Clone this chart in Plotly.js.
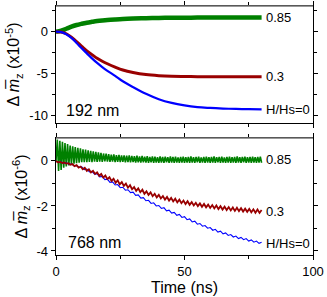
<!DOCTYPE html>
<html>
<head>
<meta charset="utf-8">
<script src="https://cdn.plot.ly/plotly-3.0.1.min.js"></script>
<style>html,body{margin:0;padding:0;background:#fff;}#chart{width:327px;height:297px;}</style>
</head>
<body>
<div id="chart"></div>
<script>
// ---------- DATA ----------
// Top panel (192 nm), units x1e-5, time in ns
const tTop = [0,2,4,6,8,10,12,14,16,18,20,23,26,30,35,40,45,50,55,60,65,70,75,80];
const top085 = [0,0.12,0.35,0.6,0.8,0.95,1.08,1.18,1.27,1.34,1.4,1.47,1.53,1.58,1.62,1.65,1.67,1.68,1.69,1.7,1.7,1.7,1.7,1.7];
const top03  = [0,-0.05,-0.25,-0.65,-1.2,-1.75,-2.3,-2.75,-3.2,-3.55,-3.85,-4.25,-4.6,-4.9,-5.15,-5.28,-5.35,-5.38,-5.4,-5.4,-5.4,-5.4,-5.4,-5.4];
const top0   = [0,-0.05,-0.3,-0.75,-1.35,-2.0,-2.6,-3.2,-3.75,-4.25,-4.7,-5.3,-5.95,-6.65,-7.45,-8.1,-8.55,-8.85,-9.05,-9.15,-9.22,-9.27,-9.3,-9.32];

// Bottom panel (768 nm), units x1e-6; sampled on uniform time grids
const stepGreen = 0.5, stepRed = 0.8, stepBlue = 1.0;
const bot085 = [0.00,0.95,-0.45,0.90,-0.40,0.85,-0.30,0.80,-0.25,0.75,-0.20,
 0.68,-0.15,0.65,-0.12,0.62,-0.10,0.58,-0.08,0.56,-0.06,
 0.52,-0.05,0.50,-0.06,0.47,-0.04,0.45,-0.05,0.42,-0.03,
 0.40,-0.04,0.38,-0.03,0.36,-0.04,0.33,-0.02,0.32,-0.03,
 0.30,-0.04,0.28,-0.03,0.29,-0.05,0.26,-0.04,0.27,-0.05,
 0.24,-0.04,0.25,-0.06,0.23,-0.05,0.24,-0.06,0.22,-0.05,
 0.21,-0.07,0.23,-0.06,0.20,-0.07,0.22,-0.06,0.19,-0.07,
 0.21,-0.08,0.18,-0.06,0.20,-0.08,0.19,-0.07,0.17,-0.08,
 0.20,-0.07,0.18,-0.08,0.19,-0.06,0.17,-0.08,0.20,-0.07,
 0.18,-0.08,0.19,-0.07,0.16,-0.08,0.18,-0.07,0.19,-0.08,
 0.17,-0.07,0.18,-0.08,0.20,-0.07,0.17,-0.08,0.18,-0.06,
 0.19,-0.08,0.16,-0.07,0.18,-0.08,0.19,-0.07,0.17,-0.08,
 0.18,-0.07,0.20,-0.08,0.17,-0.06,0.18,-0.08,0.19,-0.07,
 0.16,-0.08,0.18,-0.07,0.19,-0.08,0.17,-0.07,0.18,-0.08,
 0.20,-0.07,0.17,-0.08,0.18,-0.06,0.19,-0.08,0.17,-0.07,
 0.18,-0.08,0.19,-0.07,0.17,-0.08,0.18,-0.07,0.19,-0.08];
const bot03 = [-0.01,-0.06,-0.04,-0.09,-0.07,-0.12,-0.10,-0.17,-0.14,-0.23,
 -0.19,-0.30,-0.25,-0.37,-0.30,-0.44,-0.37,-0.51,-0.44,-0.58,
 -0.51,-0.66,-0.58,-0.74,-0.65,-0.81,-0.72,-0.89,-0.79,-0.97,
 -0.86,-1.04,-0.94,-1.11,-1.01,-1.19,-1.08,-1.26,-1.16,-1.33,
 -1.22,-1.39,-1.28,-1.46,-1.35,-1.51,-1.40,-1.57,-1.46,-1.62,
 -1.51,-1.67,-1.56,-1.72,-1.60,-1.76,-1.64,-1.80,-1.68,-1.84,
 -1.72,-1.88,-1.76,-1.92,-1.79,-1.95,-1.83,-1.98,-1.86,-2.01,
 -1.89,-2.04,-1.91,-2.06,-1.94,-2.09,-1.96,-2.11,-1.98,-2.14,
 -2.01,-2.16,-2.03,-2.18,-2.05,-2.20,-2.07,-2.22,-2.08,-2.23,
 -2.10,-2.25,-2.12,-2.26,-2.13,-2.28,-2.15,-2.30,-2.16,-2.31,-2.18];
const bot0 = [-0.01,-0.07,-0.05,-0.10,-0.08,-0.14,-0.14,-0.21,-0.21,-0.28,
 -0.26,-0.39,-0.36,-0.49,-0.46,-0.59,-0.57,-0.71,-0.69,-0.83,
 -0.81,-0.95,-0.93,-1.07,-1.05,-1.19,-1.17,-1.30,-1.28,-1.41,
 -1.39,-1.53,-1.51,-1.65,-1.63,-1.77,-1.75,-1.89,-1.86,-2.00,
 -1.98,-2.11,-2.08,-2.22,-2.19,-2.32,-2.29,-2.42,-2.38,-2.51,
 -2.48,-2.61,-2.58,-2.71,-2.68,-2.81,-2.78,-2.90,-2.87,-2.99,
 -2.96,-3.08,-3.04,-3.16,-3.12,-3.24,-3.20,-3.31,-3.27,-3.38,
 -3.34,-3.45,-3.40,-3.50,-3.45,-3.56,-3.51,-3.61,-3.56,-3.66,-3.61];

const seriesLabels = ['0.85', '0.3', 'H/Hs=0'];
const panelLabels = ['192 nm', '768 nm'];

// ---------- PLOT ----------
const grid = (arr, step) => arr.map((_, i) => +(i * step).toFixed(3));
const GREEN = '#008000', RED = '#990000', BLUE = '#0000ff';
const FONT = 'Arial, "Liberation Sans", sans-serif';

const traces = [
  {x: tTop, y: top085, xaxis: 'x2', yaxis: 'y', mode: 'lines', line: {color: GREEN, width: 4.5, shape: 'spline'}},
  {x: tTop, y: top03, xaxis: 'x2', yaxis: 'y', mode: 'lines', line: {color: RED, width: 3, shape: 'spline'}},
  {x: tTop, y: top0, xaxis: 'x2', yaxis: 'y', mode: 'lines', line: {color: BLUE, width: 2.2, shape: 'spline'}},
  {x: grid(bot085, stepGreen), y: bot085, xaxis: 'x', yaxis: 'y2', mode: 'lines', line: {color: GREEN, width: 1.6}},
  {x: grid(bot0, stepBlue), y: bot0, xaxis: 'x', yaxis: 'y2', mode: 'lines', line: {color: BLUE, width: 1.1}},
  {x: grid(bot03, stepRed), y: bot03, xaxis: 'x', yaxis: 'y2', mode: 'lines', line: {color: RED, width: 1.8}}
];

const axBase = {
  showline: true, linecolor: '#000', linewidth: 1.3, mirror: 'allticks',
  ticks: 'outside', ticklen: 4, tickwidth: 1, tickcolor: '#000',
  showgrid: false, zeroline: false, tickfont: {family: FONT, size: 13, color: '#000'}
};

const ytitle = (e) => ({text: 'Δ <i>m\u0305</i><sub>z</sub> (x10<sup>' + e + '</sup>)', font: {family: FONT, size: 16, color: '#000'}, standoff: 5});

const layout = {
  width: 327, height: 297,
  margin: {l: 56, r: 14, t: 6, b: 42},
  paper_bgcolor: '#fff', plot_bgcolor: '#fff',
  showlegend: false,
  font: {family: FONT, color: '#000'},
  xaxis: Object.assign({}, axBase, {
    domain: [0, 1], anchor: 'y2', range: [0, 100],
    tickvals: [0, 50, 100], ticktext: ['0', '50', '100'],
    minor: {tickvals: [25, 75], ticks: 'outside', ticklen: 3, tickcolor: '#000'},
    title: {text: 'Time (ns)', font: {family: FONT, size: 16, color: '#000'}, standoff: 4}
  }),
  xaxis2: Object.assign({}, axBase, {
    domain: [0, 1], anchor: 'y', matches: 'x', range: [0, 100], showticklabels: false,
    tickvals: [0, 50, 100], minor: {tickvals: [25, 75], ticks: 'outside', ticklen: 3, tickcolor: '#000'}
  }),
  yaxis: Object.assign({}, axBase, {
    domain: [0.530, 1], anchor: 'x2', range: [-10.96, 3.08],
    tickvals: [-10, -5, 0], ticktext: ['-10', '-5', '0'],
    minor: {tickvals: [-7.5, -2.5, 2.5], ticks: 'outside', ticklen: 3, tickcolor: '#000'},
    title: ytitle('-5')
  }),
  yaxis2: Object.assign({}, axBase, {
    domain: [0, 0.470], anchor: 'x', range: [-4.18, 1.02],
    tickvals: [-4, -2, 0], ticktext: ['-4', '-2', '0'],
    minor: {tickvals: [-3, -1], ticks: 'outside', ticklen: 3, tickcolor: '#000'},
    title: ytitle('-6')
  }),
  shapes: [
    {type: 'line', xref: 'x2 domain', yref: 'y domain', x0: 0, x1: 1, y0: 1, y1: 1, line: {color: '#777', width: 1.6}, layer: 'above'},
    {type: 'line', xref: 'x domain', yref: 'y2 domain', x0: 0, x1: 1, y0: 1, y1: 1, line: {color: '#777', width: 1.6}, layer: 'above'}
  ],
  annotations: []
};

const lblFont = {family: FONT, size: 13, color: '#000'};
const addEndLabel = (xs, ys, text, xa, ya) => layout.annotations.push({
  x: xs[xs.length - 1], y: ys[ys.length - 1], xref: xa, yref: ya, text: text,
  showarrow: false, xanchor: 'left', yanchor: 'middle', xshift: 2, font: lblFont
});
addEndLabel(tTop, top085, seriesLabels[0], 'x2', 'y');
addEndLabel(tTop, top03, seriesLabels[1], 'x2', 'y');
addEndLabel(tTop, top0, seriesLabels[2], 'x2', 'y');
const gG = grid(bot085, stepGreen), gR = grid(bot03, stepRed), gB = grid(bot0, stepBlue);
layout.annotations.push({x: gG[gG.length-1], y: 0.05, xref: 'x', yref: 'y2', text: seriesLabels[0], showarrow: false, xanchor: 'left', yanchor: 'middle', xshift: 2, font: lblFont});
layout.annotations.push({x: gR[gR.length-1], y: -2.25, xref: 'x', yref: 'y2', text: seriesLabels[1], showarrow: false, xanchor: 'left', yanchor: 'middle', xshift: 2, font: lblFont});
layout.annotations.push({x: gB[gB.length-1], y: -3.68, xref: 'x', yref: 'y2', text: seriesLabels[2], showarrow: false, xanchor: 'left', yanchor: 'middle', xshift: 2, font: lblFont});
layout.annotations.push({x: 0.033, y: 0.11, xref: 'x2 domain', yref: 'y domain', text: panelLabels[0], showarrow: false, xanchor: 'left', yanchor: 'middle', font: {family: FONT, size: 16, color: '#000'}});
layout.annotations.push({x: 0.037, y: 0.105, xref: 'x domain', yref: 'y2 domain', text: panelLabels[1], showarrow: false, xanchor: 'left', yanchor: 'middle', font: {family: FONT, size: 16, color: '#000'}});

Plotly.newPlot('chart', traces, layout, {staticPlot: true, displayModeBar: false});
</script>
</body>
</html>
